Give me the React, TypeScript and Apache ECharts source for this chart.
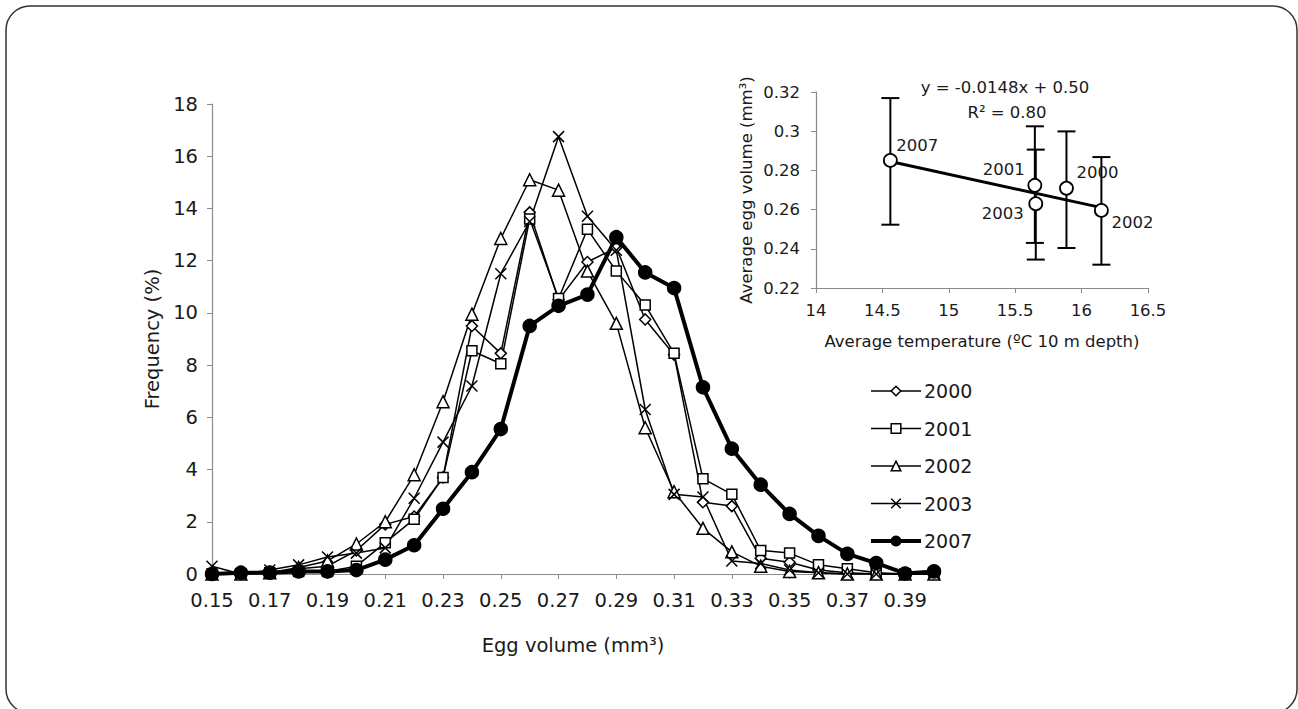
import React, { useEffect, useRef } from "react";
import * as echarts from "echarts";

// ---- Main chart data (egg volume distribution) ----
const volumeLabels = [
  "0.15", "0.16", "0.17", "0.18", "0.19", "0.20", "0.21", "0.22", "0.23", "0.24",
  "0.25", "0.26", "0.27", "0.28", "0.29", "0.30", "0.31", "0.32", "0.33", "0.34",
  "0.35", "0.36", "0.37", "0.38", "0.39", "0.40",
];
const freq2000 = [0.05, 0.0, 0.05, 0.2, 0.3, 0.9, 1.9, 2.2, 3.7, 9.5, 8.45, 13.85, 10.5, 11.95, 12.5, 9.75, 8.4, 2.75, 2.6, 0.6, 0.45, 0.15, 0.05, 0.0, 0.0, 0.0];
const freq2001 = [0.0, 0.0, 0.05, 0.1, 0.1, 0.3, 1.2, 2.1, 3.7, 8.55, 8.05, 13.6, 10.55, 13.2, 11.6, 10.3, 8.45, 3.65, 3.05, 0.9, 0.8, 0.35, 0.2, 0.05, 0.0, 0.0];
const freq2002 = [0.0, 0.0, 0.05, 0.25, 0.5, 1.15, 2.0, 3.8, 6.6, 9.95, 12.85, 15.1, 14.7, 11.6, 9.6, 5.6, 3.15, 1.75, 0.85, 0.3, 0.1, 0.05, 0.0, 0.0, 0.0, 0.0];
const freq2003 = [0.3, 0.0, 0.15, 0.35, 0.65, 0.8, 1.0, 2.9, 5.05, 7.2, 11.5, 13.5, 16.75, 13.7, 12.4, 6.3, 3.05, 2.95, 0.5, 0.4, 0.15, 0.05, 0.0, 0.0, 0.0, 0.0];
const freq2007 = [0.0, 0.05, 0.05, 0.1, 0.1, 0.15, 0.55, 1.1, 2.5, 3.9, 5.55, 9.5, 10.27, 10.7, 12.9, 11.55, 10.95, 7.15, 4.8, 3.42, 2.3, 1.46, 0.77, 0.42, 0.02, 0.1];

// ---- Inset data (average egg volume vs temperature) ----
const insetYears = ["2000", "2001", "2002", "2003", "2007"];
const avgTemp = [15.886, 15.648, 16.149, 15.655, 14.56];
const avgVolume = [0.2709, 0.2724, 0.2596, 0.263, 0.2851];
const volLow = [0.2404, 0.243, 0.2319, 0.2345, 0.2523];
const volHigh = [0.2999, 0.3025, 0.2868, 0.2906, 0.3169];
const trendTemp = [14.56, 16.15];
const trendVolume = [0.2845, 0.261];
const equationText = ["y = -0.0148x + 0.50", "R² = 0.80"];

const FONT = "'DejaVu Sans', Verdana, sans-serif";
const TXT = "#1a1a1a";
const AXIS = "#8a8a8a";
const MAIN_FS = 19.5;
const INSET_FS = 16.5;

// label offsets for inset point labels (style only)
const labelOffsets: Record<string, [number, number]> = {
  "2000": [31, -16],
  "2001": [-31, -16],
  "2002": [31, 12],
  "2003": [-33, 10],
  "2007": [27, -15],
};

export default function App() {
  const ref = useRef<HTMLDivElement>(null);

  useEffect(() => {
    if (!ref.current) return;
    const chart = echarts.init(ref.current, undefined, { renderer: "svg" });

    const cross = "path://M0,0L10,10M10,0L0,10";

    const styles = [
      { name: "2000", data: freq2000, symbol: "diamond", symbolSize: 11, width: 1.5, fill: "#fff" },
      { name: "2001", data: freq2001, symbol: "rect", symbolSize: 10, width: 1.5, fill: "#fff" },
      { name: "2002", data: freq2002, symbol: "triangle", symbolSize: 12, width: 1.5, fill: "#fff" },
      { name: "2003", data: freq2003, symbol: cross, symbolSize: 11, width: 1.5, fill: "#000" },
      { name: "2007", data: freq2007, symbol: "circle", symbolSize: 13, width: 4, fill: "#000" },
    ];
    const mainSeries = styles.map((s) => ({
      name: s.name,
      type: "line",
      xAxisIndex: 0,
      yAxisIndex: 0,
      data: s.data,
      symbol: s.symbol,
      symbolSize: s.symbolSize,
      showAllSymbol: true,
      lineStyle: { color: "#000", width: s.width },
      itemStyle: { color: s.fill, borderColor: "#000", borderWidth: 1.5, opacity: 1 },
      emphasis: { disabled: true },
    }));

    const errData = insetYears.map((_, i) => [avgTemp[i], volLow[i], volHigh[i]]);
    const pointData = insetYears.map((y, i) => ({
      value: [avgTemp[i], avgVolume[i]],
      name: y,
      label: { offset: labelOffsets[y] },
    }));

    chart.setOption({
      animation: false,
      textStyle: { fontFamily: FONT, color: TXT },
      graphic: [
        {
          type: "rect",
          shape: { x: 6, y: 6, width: 1291, height: 707, r: 24 },
          style: { fill: "none", stroke: "#333", lineWidth: 1.5 },
          z: -10,
        },
        {
          type: "text",
          x: 1005,
          y: 87,
          style: { text: equationText[0], font: `${INSET_FS}px ${FONT}`, fill: TXT, textAlign: "center", textVerticalAlign: "middle" },
        },
        {
          type: "text",
          x: 1007,
          y: 112,
          style: { text: equationText[1], font: `${INSET_FS}px ${FONT}`, fill: TXT, textAlign: "center", textVerticalAlign: "middle" },
        },
      ],
      legend: {
        orient: "vertical",
        left: 869,
        top: 380,
        padding: 0,
        itemWidth: 50,
        itemHeight: 12,
        itemGap: 15.5,
        data: styles.map((s) => ({
          name: s.name,
          lineStyle: { color: "#000", width: s.width },
          itemStyle: { color: s.fill, borderColor: "#000", borderWidth: 1.5 },
        })),
        textStyle: { fontFamily: FONT, fontSize: 19, color: TXT, lineHeight: 22, padding: [0, 0, 0, -2] },
      },
      grid: [
        { left: 212, top: 104, width: 722, height: 470, containLabel: false },
        { left: 816, top: 92, width: 332, height: 196, containLabel: false },
      ],
      xAxis: [
        {
          type: "category",
          gridIndex: 0,
          data: volumeLabels,
          boundaryGap: false,
          name: "Egg volume (mm³)",
          nameLocation: "middle",
          nameGap: 61,
          nameTextStyle: { fontSize: MAIN_FS, color: TXT, fontFamily: FONT },
          axisLine: { lineStyle: { color: AXIS, width: 1.2 } },
          axisTick: { interval: 1, length: 5, lineStyle: { color: AXIS } },
          axisLabel: { interval: 1, fontSize: MAIN_FS, color: TXT, margin: 16, fontFamily: FONT },
          splitLine: { show: false },
        },
        {
          type: "value",
          gridIndex: 1,
          min: 14,
          max: 16.5,
          interval: 0.5,
          name: "Average temperature (ºC 10 m depth)",
          nameLocation: "middle",
          nameGap: 45,
          nameTextStyle: { fontSize: INSET_FS, color: TXT, fontFamily: FONT },
          axisLine: { lineStyle: { color: AXIS, width: 1.2 } },
          axisTick: { length: 5, lineStyle: { color: AXIS } },
          axisLabel: { fontSize: INSET_FS, color: TXT, margin: 14, fontFamily: FONT },
          splitLine: { show: false },
        },
      ],
      yAxis: [
        {
          type: "value",
          gridIndex: 0,
          min: 0,
          max: 18,
          interval: 2,
          name: "Frequency (%)",
          nameLocation: "middle",
          nameGap: 47,
          nameTextStyle: { fontSize: MAIN_FS, color: TXT, fontFamily: FONT },
          axisLine: { show: true, lineStyle: { color: AXIS, width: 1.2 } },
          axisTick: { show: true, length: 5, lineStyle: { color: AXIS } },
          axisLabel: { fontSize: MAIN_FS, color: TXT, margin: 14, fontFamily: FONT },
          splitLine: { show: false },
        },
        {
          type: "value",
          gridIndex: 1,
          min: 0.22,
          max: 0.32,
          interval: 0.02,
          name: "Average egg volume (mm³)",
          nameLocation: "middle",
          nameGap: 61,
          nameTextStyle: { fontSize: INSET_FS, color: TXT, fontFamily: FONT },
          axisLine: { show: true, lineStyle: { color: AXIS, width: 1.2 } },
          axisTick: { show: true, length: 5, lineStyle: { color: AXIS } },
          axisLabel: { fontSize: INSET_FS, color: TXT, margin: 16, fontFamily: FONT },
          splitLine: { show: false },
        },
      ],
      series: [
        ...mainSeries,
        {
          name: "errorbars",
          type: "custom",
          xAxisIndex: 1,
          yAxisIndex: 1,
          data: errData,
          encode: { x: 0, y: [1, 2] },
          renderItem: (params: any, api: any) => {
            const x = api.value(0);
            const lo = api.coord([x, api.value(1)]);
            const hi = api.coord([x, api.value(2)]);
            const cap = 9;
            const st = { stroke: "#000", lineWidth: 2 };
            return {
              type: "group",
              children: [
                { type: "line", shape: { x1: lo[0], y1: lo[1], x2: hi[0], y2: hi[1] }, style: st },
                { type: "line", shape: { x1: lo[0] - cap, y1: lo[1], x2: lo[0] + cap, y2: lo[1] }, style: st },
                { type: "line", shape: { x1: hi[0] - cap, y1: hi[1], x2: hi[0] + cap, y2: hi[1] }, style: st },
              ],
            };
          },
          z: 2,
        },
        {
          name: "trend",
          type: "line",
          xAxisIndex: 1,
          yAxisIndex: 1,
          data: trendTemp.map((t, i) => [t, trendVolume[i]]),
          symbol: "none",
          lineStyle: { color: "#000", width: 3 },
          z: 3,
        },
        {
          name: "average",
          type: "scatter",
          xAxisIndex: 1,
          yAxisIndex: 1,
          data: pointData,
          symbol: "circle",
          symbolSize: 13,
          itemStyle: { color: "#fff", borderColor: "#000", borderWidth: 1.8, opacity: 1 },
          label: {
            show: true,
            position: "inside",
            formatter: (p: any) => p.name,
            fontSize: INSET_FS,
            color: TXT,
            fontFamily: FONT,
          },
          emphasis: { disabled: true },
          z: 4,
        },
      ],
    });

    return () => chart.dispose();
  }, []);

  return (
    <div
      ref={ref}
      style={{ position: "fixed", left: 0, top: 0, width: 1298, height: 709, background: "#fff" }}
    />
  );
}
